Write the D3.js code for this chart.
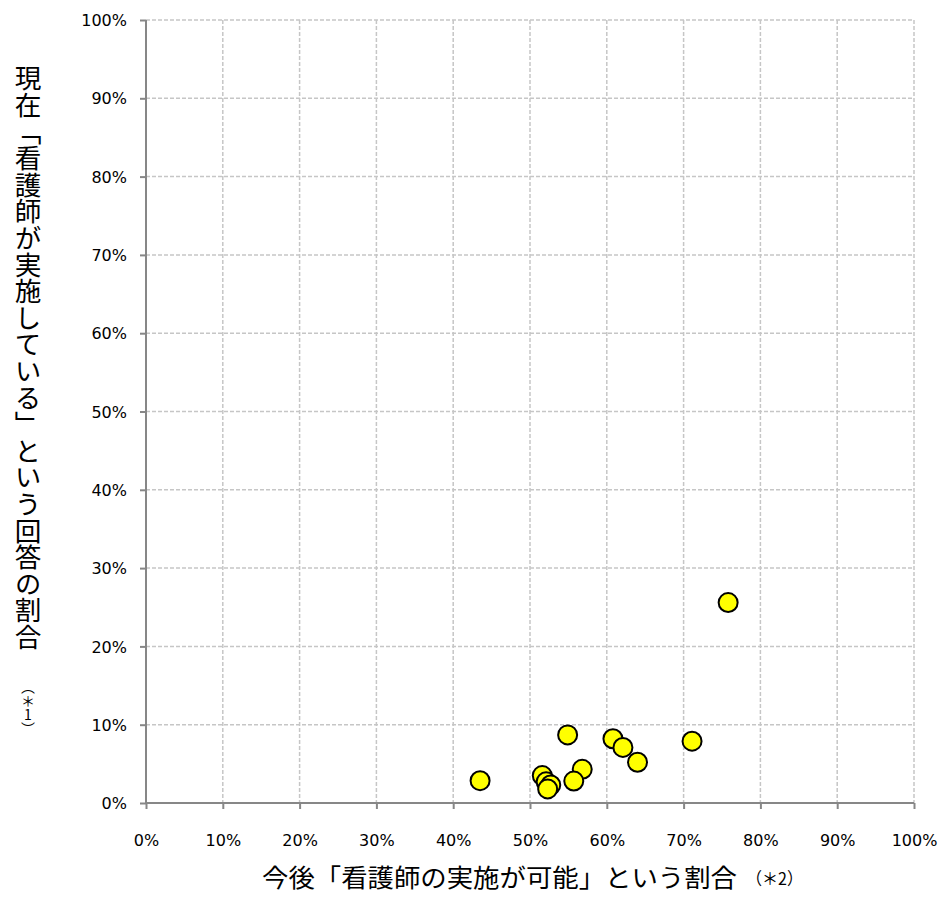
<!DOCTYPE html>
<html><head><meta charset="utf-8">
<script src="https://cdn.jsdelivr.net/npm/d3@7"></script>
<style>html,body{margin:0;padding:0;background:#fff;}svg{display:block;}</style>
</head><body>
<svg id="chart" width="942" height="897"></svg>
<script>
// Data (percent)
const futurePossible = [43.5, 54.9, 60.8, 62.1, 64.0, 71.1, 56.8, 55.7, 51.6, 52.1, 52.7, 52.3, 75.8];
const currentlyDone  = [2.85, 8.7, 8.2, 7.1, 5.2, 7.9, 4.3, 2.8, 3.5, 2.7, 2.3, 1.8, 25.6];
const tickValues = [0, 10, 20, 30, 40, 50, 60, 70, 80, 90, 100];
const tickLabels = ["0%", "10%", "20%", "30%", "40%", "50%", "60%", "70%", "80%", "90%", "100%"];
const xTitle = "今後「看護師の実施が可能」という割合";
const xNote = "（＊2）";
const yTitle = "現在「看護師が実施している」という回答の割合";
const yNote = "（＊1）";

const svg = d3.select("#chart");
const L = 146, R = 914, T = 20, B = 803;
const x = d3.scaleLinear().domain([0, 100]).range([L, R]);
const y = d3.scaleLinear().domain([0, 100]).range([B, T]);

const gridColor = "#c6c6c6", axisColor = "#878787";
const tickFont = "'DejaVu Sans', sans-serif";
const cjk = "'Noto Sans CJK JP', sans-serif";

// gridlines
svg.append("g").selectAll("line").data(tickValues.filter(d => d > 0)).join("line")
  .attr("x1", d => x(d)).attr("x2", d => x(d)).attr("y1", T).attr("y2", B)
  .attr("stroke", gridColor).attr("stroke-width", 1.5).attr("stroke-dasharray", "4,2");
svg.append("g").selectAll("line").data(tickValues.filter(d => d > 0)).join("line")
  .attr("y1", d => y(d)).attr("y2", d => y(d)).attr("x1", L).attr("x2", R)
  .attr("stroke", gridColor).attr("stroke-width", 1.5).attr("stroke-dasharray", "4,2");

// axes
const xAxis = d3.axisBottom(x).tickValues(tickValues).tickSize(6).tickPadding(0)
  .tickFormat((d, i) => tickLabels[i]);
const gx = svg.append("g").attr("transform", `translate(0,${B})`).call(xAxis);
gx.select(".domain").attr("stroke", axisColor).attr("stroke-width", 2).attr("d", `M${L},0H${R}`);
gx.selectAll(".tick line").attr("stroke", axisColor).attr("stroke-width", 2);
gx.selectAll(".tick text").attr("y", 37).attr("dy", "0.35em")
  .style("font-family", tickFont).style("font-size", "16px").attr("fill", "#000");

const yAxis = d3.axisLeft(y).tickValues(tickValues).tickSize(6).tickPadding(0)
  .tickFormat((d, i) => tickLabels[i]);
const gy = svg.append("g").attr("transform", `translate(${L},0)`).call(yAxis);
gy.select(".domain").attr("stroke", axisColor).attr("stroke-width", 2).attr("d", `M0,${T}V${B}`);
gy.selectAll(".tick line").attr("stroke", axisColor).attr("stroke-width", 2);
gy.selectAll(".tick text").attr("x", -19).attr("dy", "0.35em")
  .style("font-family", tickFont).style("font-size", "16px").attr("fill", "#000");

// points
svg.append("g").selectAll("circle").data(futurePossible.map((v, i) => [v, currentlyDone[i]])).join("circle")
  .attr("cx", d => x(d[0])).attr("cy", d => y(d[1])).attr("r", 9.5)
  .attr("fill", "#ffff00").attr("stroke", "#000").attr("stroke-width", 2);

// x title
const xt = svg.append("text").attr("y", 887).attr("font-family", cjk).attr("fill", "#000");
xt.append("tspan").attr("x", 262).attr("font-size", 25).attr("textLength", 475)
  .attr("lengthAdjust", "spacingAndGlyphs").text(xTitle);
xt.append("tspan").attr("x", 746).attr("y", 885).attr("font-size", 17)
  .attr("textLength", 57).attr("lengthAdjust", "spacingAndGlyphs").text(xNote);

// y title (vertical)
svg.append("text").attr("x", 28).attr("y", 65)
  .style("writing-mode", "vertical-rl").style("font-family", cjk).style("font-size", "26.6px")
  .attr("fill", "#000").text(yTitle);
svg.append("text").attr("x", 28).attr("y", 680)
  .style("writing-mode", "vertical-rl").style("text-orientation", "upright")
  .style("font-family", cjk).style("font-size", "14px")
  .attr("fill", "#000").text(yNote);
</script>
</body></html>
